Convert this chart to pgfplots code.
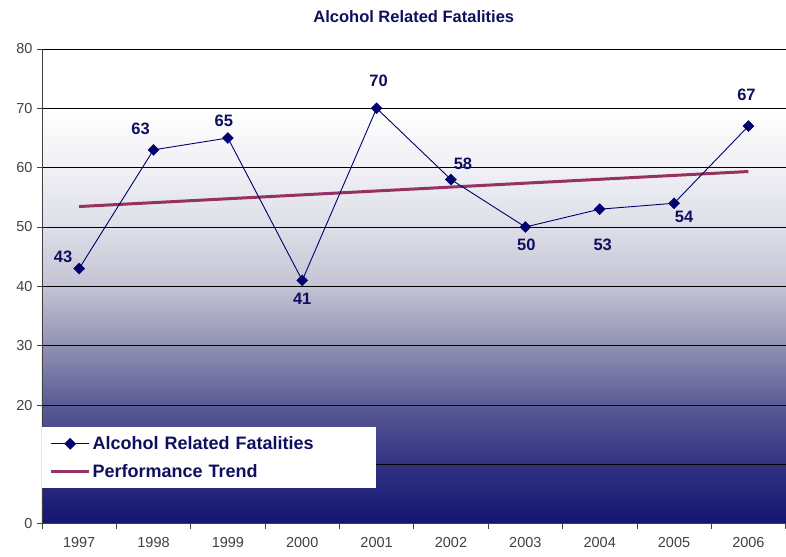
\documentclass[border=0pt]{standalone}
\usepackage{pgfplots}
\pgfplotsset{compat=1.18}
\usepackage{pgfplotstable}
\usepackage{fontspec}
\setmainfont{Liberation Sans}

\definecolor{navyline}{RGB}{0,0,110}
\definecolor{labelblue}{RGB}{15,15,95}
\definecolor{trendcol}{RGB}{150,50,95}
\definecolor{tickgray}{RGB}{65,65,65}
\definecolor{c0}{RGB}{20,20,115}
\definecolor{c1}{RGB}{50,50,130}
\definecolor{c2}{RGB}{90,90,148}
\definecolor{c3}{RGB}{145,145,180}
\definecolor{c4}{RGB}{195,195,212}
\definecolor{c5}{RGB}{222,222,232}
\definecolor{c6}{RGB}{240,240,245}
\pgfdeclareverticalshading{bgshade}{100bp}{color(0bp)=(c0); color(25bp)=(c0);
  color(31.25bp)=(c1); color(37.5bp)=(c2); color(43.75bp)=(c3); color(50bp)=(c4);
  color(56.25bp)=(c5); color(62.5bp)=(c6); color(68.75bp)=(white); color(100bp)=(white)}

\pgfplotsset{
  legmark/.style={legend image code/.code={\draw[##1, mark repeat=2, mark phase=2] plot coordinates {(0pt,0pt) (19pt,0pt) (38pt,0pt)};}},
  legline/.style={legend image code/.code={\draw[##1] (0pt,0pt) -- (38pt,0pt);}},
}

% year index, fatalities, label offsets (pt)
\pgfplotstableread{
x y dx dy
0 43 -16 12
1 63 -13 21
2 65 -4 17
3 41 0 -18
4 70 2 28
5 58 12 16
6 50 1 -18
7 53 3 -36
8 54 10 -14
9 67 -2 31
}\fatal

% linear trend of the series
\pgfplotstableread{
x y
0 53.45
9 59.35
}\trend

\begin{document}
\begin{tikzpicture}
\begin{axis}[name=ax,
  scale only axis, width=744pt, height=475pt,
  xmin=-0.5, xmax=9.5, ymin=0, ymax=80,
  axis x line*=bottom, axis y line*=left,
  axis line style={draw=tickgray, line width=0.8pt},
  xtick={-0.5,0.5,...,9.5},
  x tick label as interval,
  xticklabels={1997,1998,1999,2000,2001,2002,2003,2004,2005,2006},
  ytick={0,20,30,40,50,60,70,80},
  extra y ticks={10}, extra y tick labels={},
  extra y tick style={major tick length=0pt},
  ymajorgrids, grid style={black, line width=0.7pt},
  tick style={tickgray, line width=0.7pt},
  major tick length=5pt, tick align=outside,
  tick label style={font=\fontsize{14.5}{16}\selectfont, text=tickgray},
  yticklabel style={xshift=-1pt},
  xticklabel style={yshift=-5pt},
  /pgf/number format/assume math mode=true,
  axis background/.style={shade, shading=bgshade},
  title={Alcohol Related Fatalities},
  title style={font=\bfseries\fontsize{16.5}{18}\selectfont, text=labelblue, at={(0.5,1)}, anchor=south, yshift=17pt},
  legend style={at={(0,0.204)}, anchor=north west, fill=white, draw=none,
    font=\bfseries\fontsize{18}{20}\selectfont, text=labelblue,
    row sep=9pt, inner xsep=7.5pt, inner ysep=7.5pt,
    /tikz/every even column/.append style={text width=274pt}},
  legend cell align=left,
  clip=false,
]
\addplot[trendcol, line width=3pt, forget plot] table[x=x, y=y] {\trend};
\addplot[navyline, line width=0.9pt, mark=square*, mark size=3.9pt,
  mark options={rotate=45, fill=navyline, line width=0.4pt},
  nodes near coords,
  visualization depends on={\thisrow{dx}\as\dx},
  visualization depends on={\thisrow{dy}\as\dy},
  every node near coord/.append style={anchor=center, xshift=\dx pt, yshift=\dy pt,
    font=\bfseries\fontsize{16.5}{18}\selectfont, text=labelblue},
  legmark,
] table[x=x, y=y] {\fatal};
\addlegendentry{Alcohol Related Fatalities}
\addlegendimage{trendcol, line width=3pt, legline}
\addlegendentry{Performance Trend}
\end{axis}
\path ([xshift=-42pt,yshift=-33pt]ax.south west) rectangle ([yshift=49pt]ax.north east);
\end{tikzpicture}
\end{document}
